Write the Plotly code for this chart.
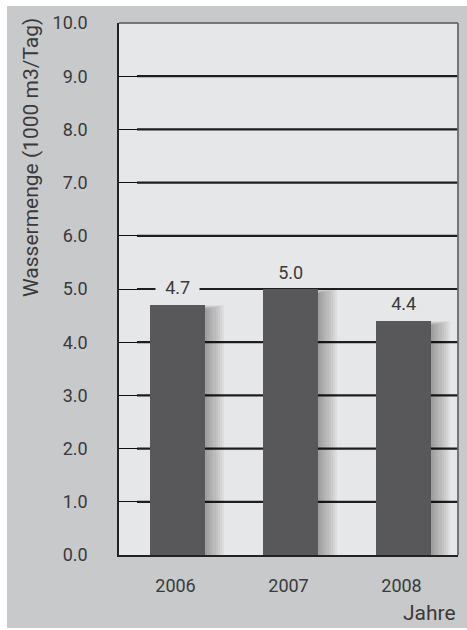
import plotly.graph_objects as go

# Daily water volume per year
years = ["2006", "2007", "2008"]
volumes = [4.7, 5.0, 4.4]
y_ticks = [0, 1, 2, 3, 4, 5, 6, 7, 8, 9, 10]

FONT = "Roboto, Liberation Sans, Arial, sans-serif"
TEXT = "#3a3a3a"
OUTER = "#c8c9cb"
INNER = "#e6e7e9"
BAR = "#58585a"

W, H = 467, 630
ML, MR, MT, MB = 119, 9, 23, 75
PW, PH = W - ML - MR, H - MT - MB

bar_w = 0.487
px_x = 1.0 / (PW / len(years))      # category units per pixel
px_y = 10.0 / PH                    # value units per pixel
nudge = 2 * px_x                    # bars sit slightly right of the slot centre

fig = go.Figure()

# soft drop shadow to the right of each bar, built up from translucent layers
for k in range(1, 10):
    fig.add_trace(go.Bar(
        x=years, y=[v - (5 - k * 0.55) * px_y for v in volumes],
        width=bar_w + k * 1.9 * px_x,
        offset=-bar_w / 2 + nudge + k * 0.2 * px_x,
        marker=dict(color="rgba(0,0,0,0.04)", line=dict(width=0)),
        hoverinfo="skip", showlegend=False,
    ))

fig.add_trace(go.Bar(
    x=years, y=volumes, width=bar_w, offset=-bar_w / 2 + nudge,
    marker=dict(color=BAR, line=dict(width=0)),
    hoverinfo="skip", showlegend=False,
))

# thin white strips along the top, left and bottom edges of the panel
white = dict(type="rect", xref="paper", yref="paper", fillcolor="white",
             line=dict(width=0), layer="below")
shapes = [
    dict(white, x0=-ML / PW - 0.01, x1=1 + MR / PW + 0.01,
         y0=1 + (MT - 6) / PH, y1=1 + MT / PH + 0.01),
    dict(white, x0=-ML / PW - 0.01, x1=(7 - ML) / PW,
         y0=-MB / PH - 0.01, y1=1 + MT / PH + 0.01),
    dict(white, x0=-ML / PW - 0.01, x1=1 + MR / PW + 0.01,
         y0=-MB / PH - 0.01, y1=-(MB - 2) / PH),
]
# heavy rules across the plot, starting where the inside ticks end
for t in y_ticks[1:-1]:
    shapes.append(dict(type="line", xref="paper", yref="y",
                       x0=18 / PW, x1=1, y0=t, y1=t,
                       line=dict(color="#1e1e1e", width=2.2), layer="below"))
# top and right frame
shapes.append(dict(type="line", xref="paper", yref="paper", x0=0, x1=1, y0=1, y1=1,
                   line=dict(color="#555", width=1.5)))
shapes.append(dict(type="line", xref="paper", yref="paper", x0=1, x1=1, y0=0, y1=1,
                   line=dict(color="#6a6a6a", width=1.8)))

annotations = []
for i, v in enumerate(volumes):
    annotations.append(dict(
        x=i, y=v, xref="x", yref="y", text=f"\u2002{v:.1f}\u2002",
        showarrow=False, yanchor="middle", yshift=17, xshift=2,
        font=dict(family=FONT, size=18, color=TEXT),
        bgcolor=INNER, borderpad=0,
    ))
annotations.append(dict(
    text="Wassermenge (1000 m3/Tag)", textangle=-90,
    xref="paper", yref="paper", x=(31 - ML) / PW, y=(PH + MT - 158) / PH,
    xanchor="center", yanchor="middle", showarrow=False,
    font=dict(family=FONT, size=21, color=TEXT),
))
annotations.append(dict(
    text="Jahre", xref="paper", yref="paper", x=(458 - ML) / PW, y=(PH + MT - 613) / PH,
    xanchor="right", yanchor="middle", showarrow=False,
    font=dict(family=FONT, size=21, color=TEXT),
))

fig.update_layout(
    width=W, height=H,
    margin=dict(l=ML, r=MR, t=MT, b=MB, pad=0),
    paper_bgcolor=OUTER, plot_bgcolor=INNER,
    barmode="overlay", bargap=0,
    shapes=shapes, annotations=annotations,
    font=dict(family=FONT, color=TEXT),
    xaxis=dict(
        type="category", categoryorder="array", categoryarray=years,
        range=[-0.5, len(years) - 0.5], fixedrange=True,
        showgrid=False, zeroline=False,
        showline=True, linecolor="#222", linewidth=1.5,
        ticks="", tickfont=dict(family=FONT, size=18, color=TEXT),
        ticklabelstandoff=14,
    ),
    yaxis=dict(
        range=[0, 10], tickvals=y_ticks, tickformat=".1f",
        showgrid=False, zeroline=False,
        showline=True, linecolor="#222", linewidth=1.5,
        ticks="inside", ticklen=19, tickwidth=1.3, tickcolor="#111",
        tickfont=dict(family=FONT, size=18, color=TEXT),
        ticklabelstandoff=26,
    ),
)

fig.write_html("out.html")
